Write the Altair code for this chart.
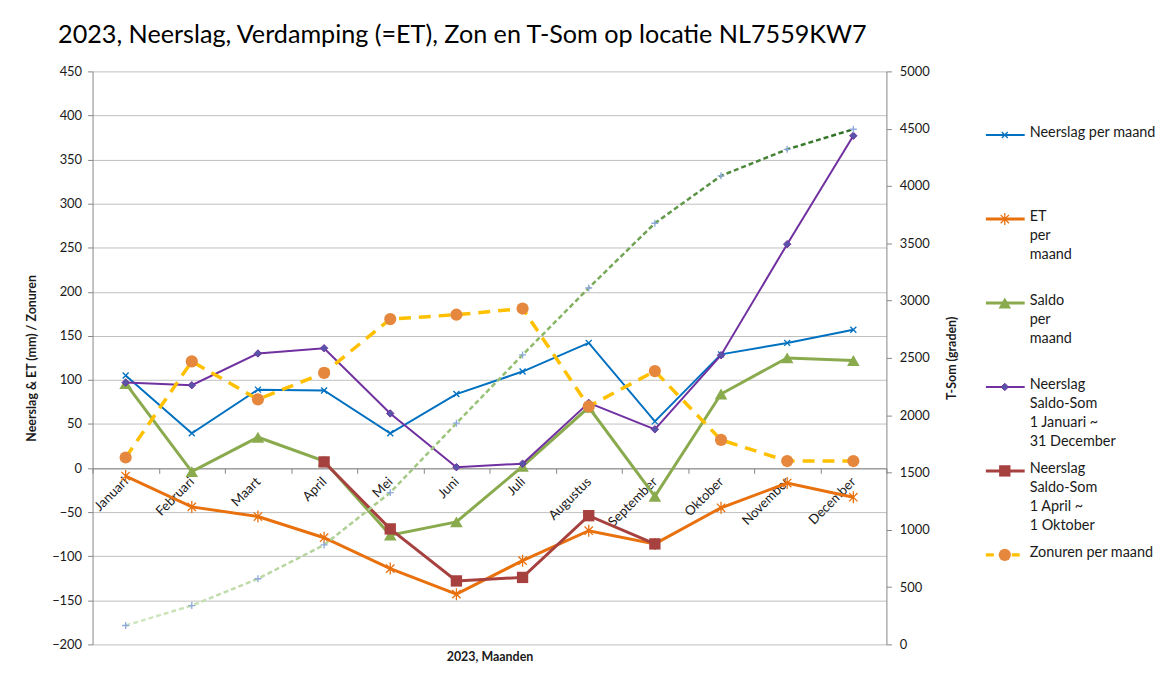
import altair as alt
import pandas as pd

months = ["Januari", "Februari", "Maart", "April", "Mei", "Juni", "Juli",
          "Augustus", "September", "Oktober", "November", "December"]

neerslag = [105, 39.5, 89, 88, 39.5, 84, 109.5, 142, 53, 129, 142, 157]
et = [-9, -44, -55, -79, -114, -143, -105, -71, -86, -45, -17, -33]
saldo = [96, -4, 35, 8, -76, -61, 2, 69, -32, 84, 125, 122]
saldo_som_jaar = [97, 94, 130, 136, 62, 1, 5, 74, 44, 128, 254, 377]
saldo_som_apr_okt = [None, None, None, 7, -69, -128, -124, -54, -86, None, None, None]
zonuren = [12, 121, 78, 108, 169, 174, 181, 70, 110, 32, 8, 8]
tsom = [165, 339, 573, 868, 1325, 1930, 2526, 3110, 3675, 4089, 4320, 4495]

legend_labels = [
    "Neerslag per maand",
    "ET\nper\nmaand",
    "Saldo\nper\nmaand",
    "Neerslag\nSaldo-Som\n1 Januari ~\n31 December",
    "Neerslag\nSaldo-Som\n1 April ~\n1 Oktober",
    "Zonuren per maand",
]

FONT = "Lato"
TXT = "#1a1a1a"
AX = "#868686"
GRID = "#bfbfbf"

C_BLUE = "#0070C0"
C_ORANGE = "#E8710E"
C_GREEN = "#8AAA4E"
C_PURPLE = "#7030A0"
C_DIAMOND = "#5655A8"
C_RED = "#A6413F"
C_YELLOW = "#FFC000"
C_CIRCLE = "#E5883E"
C_PLUS = "#8EA9DB"

X_PATH = "M-1,-1L1,1M-1,1L1,-1"
AST_PATH = "M-0.8,-0.8L0.8,0.8M-0.8,0.8L0.8,-0.8M0,-1.15L0,1.15"
PLUS_PATH = "M-1,0L1,0M0,-1L0,1"


def df(values):
    d = pd.DataFrame({"maand": months, "v": values})
    return d.dropna()


x_enc = alt.X(
    "maand:N",
    sort=months,
    scale=alt.Scale(type="band", domain=months, paddingInner=0, paddingOuter=0),
    axis=alt.Axis(
        title="2023, Maanden", titleFont=FONT, titleFontSize=12.5, titleFontWeight="bold",
        titleColor=TXT, titleY=183, titleBaseline="top",
        offset=-177, labelAngle=315, labelAlign="right", labelBaseline="middle",
        labelPadding=6, labelFont=FONT, labelFontSize=13.3, labelColor=TXT,
        tickBand="extent", tickSize=5, tickColor=AX, domainColor=AX, grid=False,
    ),
)

y_left = alt.Y(
    "v:Q",
    scale=alt.Scale(domain=[-200, 450], nice=False, zero=False),
    axis=alt.Axis(
        values=list(range(-200, 451, 50)), title="Neerslag & ET (mm) / Zonuren",
        titleFont=FONT, titleFontSize=12.5, titleFontWeight="bold", titleColor=TXT,
        titlePadding=13, labelFont=FONT, labelFontSize=13, labelColor=TXT, labelPadding=6,
        tickSize=5, tickColor=AX, domainColor=AX, gridColor=GRID, gridWidth=1,
    ),
)

y_right = alt.Y(
    "v:Q",
    scale=alt.Scale(domain=[0, 5000], nice=False, zero=False),
    axis=alt.Axis(
        values=list(range(0, 5001, 500)), format="d", orient="right", title="T-Som (graden)",
        titleFont=FONT, titleFontSize=12.5, titleFontWeight="bold", titleColor=TXT,
        titleAngle=270, titleBaseline="top", titlePadding=16, labelFont=FONT, labelFontSize=13,
        labelColor=TXT, labelPadding=8, tickSize=5, tickColor=AX, domainColor=AX, grid=False,
    ),
)


def line(values, color, width, dash=None):
    kw = dict(color=color, strokeWidth=width)
    if dash:
        kw["strokeDash"] = dash
    return alt.Chart(df(values)).mark_line(**kw).encode(x=x_enc, y=y_left)


def pts(values, y, **kw):
    return alt.Chart(df(values)).mark_point(**kw).encode(x=x_enc, y=y)


MK = {
    "blue": dict(shape=X_PATH, size=36, filled=False, stroke=C_BLUE, strokeWidth=1.3, opacity=1),
    "orange": dict(shape=AST_PATH, size=110, filled=False, stroke=C_ORANGE, strokeWidth=1.3, opacity=1),
    "green": dict(shape="triangle-up", size=160, filled=True, fill=C_GREEN, strokeWidth=0, opacity=1),
    "purple": dict(shape="diamond", size=55, filled=True, fill=C_DIAMOND, stroke=C_PURPLE, strokeWidth=1, opacity=1),
    "red": dict(shape="square", size=130, filled=True, fill=C_RED, strokeWidth=0, opacity=1),
    "circle": dict(shape="circle", size=150, filled=True, fill=C_CIRCLE, strokeWidth=0, opacity=1),
}

left_layers = [
    line(neerslag, C_BLUE, 2),
    pts(neerslag, y_left, **MK["blue"]),
    line(et, C_ORANGE, 3),
    pts(et, y_left, **MK["orange"]),
    line(saldo, C_GREEN, 3),
    pts(saldo, y_left, **MK["green"]),
    line(saldo_som_jaar, C_PURPLE, 2),
    pts(saldo_som_jaar, y_left, **MK["purple"]),
    line(saldo_som_apr_okt, C_RED, 3),
    pts(saldo_som_apr_okt, y_left, **MK["red"]),
    line(zonuren, C_YELLOW, 3.5, [12, 8]),
    pts(zonuren, y_left, **MK["circle"]),
]

grad = alt.Gradient(
    gradient="linear",
    stops=[alt.GradientStop(color="#d3e8c3", offset=0),
           alt.GradientStop(color="#8fbb6a", offset=0.55),
           alt.GradientStop(color="#2b6e22", offset=1)],
    x1=0, x2=1, y1=0, y2=0,
)

tsom_line = alt.Chart(df(tsom)).mark_line(color=grad, strokeWidth=2.5, strokeDash=[5, 3]).encode(x=x_enc, y=y_right)
tsom_pts = pts(tsom, y_right, shape=PLUS_PATH, size=49, filled=False, stroke=C_PLUS, strokeWidth=1.3, opacity=1)

left = alt.layer(*left_layers)
right = alt.layer(tsom_line, tsom_pts)
main = alt.layer(left, right).resolve_scale(y="independent").properties(width=798, height=576)

# legend panel
leg = pd.DataFrame({
    "row": list(range(len(legend_labels))),
    "label": legend_labels,
})
leg_styles = [
    (C_BLUE, 2, None, "blue"),
    (C_ORANGE, 3, None, "orange"),
    (C_GREEN, 3, None, "green"),
    (C_PURPLE, 2, None, "purple"),
    (C_RED, 3, None, "red"),
    (C_YELLOW, 3.5, [8, 5], "circle"),
]

ly = alt.Y("row:Q", scale=alt.Scale(domain=[0, 5], range=[64, 486]), axis=None)

leg_layers = []
for i, (col, w, dash, mk) in enumerate(leg_styles):
    base = alt.Chart(leg).transform_filter(alt.datum.row == i)
    kw = dict(color=col, strokeWidth=w)
    if dash:
        kw["strokeDash"] = dash
    leg_layers.append(base.mark_rule(**kw).encode(x=alt.value(8), x2=alt.value(47), y=ly))
    leg_layers.append(base.mark_point(**MK[mk]).encode(x=alt.value(27), y=ly))

leg_layers.append(alt.Chart(leg).mark_text(
    align="left", baseline="top", dy=-9, lineBreak="\n", lineHeight=19,
    font=FONT, fontSize=14.5, color=TXT,
).encode(x=alt.value(52), y=ly, text="label:N"))

legend = alt.layer(*leg_layers).properties(width=168, height=576)

chart = alt.hconcat(main, legend, spacing=18).properties(
    title=alt.TitleParams(
        text="2023, Neerslag, Verdamping (=ET), Zon en T-Som op locatie NL7559KW7",
        font=FONT, fontSize=25.3, fontWeight="normal", color="#000000", anchor="start",
        dx=33, offset=17,
    ),
    padding={"left": 17, "top": 13, "right": 0, "bottom": 5},
).configure_view(stroke="transparent")

chart.save("out.html", embed_options={"renderer": "svg", "actions": False})
